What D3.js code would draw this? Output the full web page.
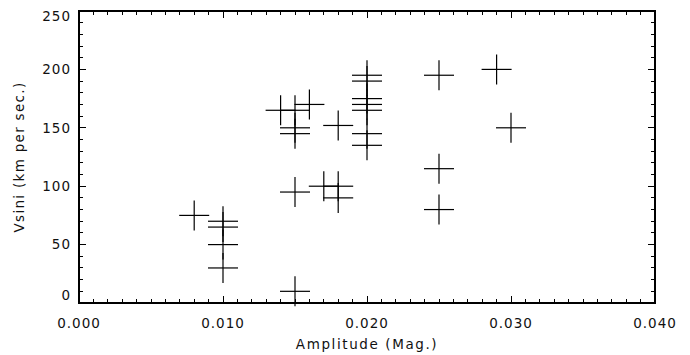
<!DOCTYPE html>
<html>
<head>
    <title>Vsini vs Amplitude</title>
    <script src="https://d3js.org/d3.v7.min.js"></script>
    <style>
        body { margin: 0; background: #fff; }
        svg { display: block; }
        text { font-family: "DejaVu Sans", sans-serif; fill: #111; }
    </style>
</head>
<body>
<svg id="chart"></svg>
<script>

const width = 690, height = 355;
const margin = { top: 11, right: 35, bottom: 52, left: 79 };

// data
const amplitude = [0.008, 0.010, 0.010, 0.010, 0.010,
    0.014, 0.015, 0.015, 0.015, 0.015, 0.015, 0.016,
    0.017, 0.018, 0.018, 0.018,
    0.020, 0.020, 0.020, 0.020, 0.020, 0.020, 0.020,
    0.025, 0.025, 0.025, 0.029, 0.030];
const vsini = [75, 70, 65, 50, 30,
    165, 165, 150, 145, 95, 10, 170,
    100, 100, 90, 152,
    195, 190, 175, 170, 165, 145, 135,
    195, 115, 80, 200, 150];

const xTicks = [0, 0.01, 0.02, 0.03, 0.04];
const xTickLabels = ["0.000", "0.010", "0.020", "0.030", "0.040"];
const yTicks = [0, 50, 100, 150, 200, 250];
const yTickLabels = ["0", "50", "100", "150", "200", "250"];

const xTitle = "Amplitude (Mag.)";
const yTitle = "Vsini (km per sec.)";

const x = d3.scaleLinear().domain([0, 0.04]).range([margin.left, width - margin.right]);
const y = d3.scaleLinear().domain([0, 250]).range([height - margin.bottom, margin.top]);

const svg = d3.select("#chart").attr("width", width).attr("height", height);

const x0 = margin.left, x1 = width - margin.right;
const y0 = height - margin.bottom, y1 = margin.top;

// minor ticks: every 0.001 / every 10
const xMinor = d3.range(0, 41).map(i => i / 1000);
const yMinor = d3.range(0, 26).map(i => i * 10);

const ticks = svg.append("g")
    .attr("stroke", "#000")
    .attr("stroke-width", 1)
    .attr("shape-rendering", "crispEdges");

xMinor.forEach((v, i) => {
    const len = i % 10 === 0 ? 7 : 4;
    ticks.append("line").attr("x1", x(v)).attr("x2", x(v)).attr("y1", y0).attr("y2", y0 - len);
    ticks.append("line").attr("x1", x(v)).attr("x2", x(v)).attr("y1", y1).attr("y2", y1 + len);
});
yMinor.forEach((v, i) => {
    const len = i % 5 === 0 ? 7 : 4;
    ticks.append("line").attr("x1", x0).attr("x2", x0 + len).attr("y1", y(v)).attr("y2", y(v));
    ticks.append("line").attr("x1", x1).attr("x2", x1 - len).attr("y1", y(v)).attr("y2", y(v));
});

// frame
svg.append("rect")
    .attr("x", x0).attr("y", y1)
    .attr("width", x1 - x0).attr("height", y0 - y1)
    .attr("fill", "none")
    .attr("stroke", "#000")
    .attr("stroke-width", 1.3)
    .attr("shape-rendering", "crispEdges");

// tick labels
svg.append("g").selectAll("text")
    .data(xTicks)
    .join("text")
    .attr("x", d => x(d))
    .attr("y", 328)
    .attr("text-anchor", "middle")
    .attr("font-size", 13.5)
    .attr("letter-spacing", 1)
    .text((d, i) => xTickLabels[i]);

// end labels are kept inside the frame, like the original
svg.append("g").selectAll("text")
    .data(yTicks)
    .join("text")
    .attr("x", x0 - 8)
    .attr("y", d => Math.max(y1 + 5, Math.min(y0 - 8, y(d))))
    .attr("dy", "0.36em")
    .attr("text-anchor", "end")
    .attr("font-size", 13.5)
    .attr("letter-spacing", 1)
    .text((d, i) => yTickLabels[i]);

// axis titles
svg.append("text")
    .attr("x", (x0 + x1) / 2)
    .attr("y", 349)
    .attr("text-anchor", "middle")
    .attr("font-size", 13.5)
    .attr("letter-spacing", 1.6)
    .text(xTitle);

svg.append("text")
    .attr("transform", `translate(24,${(y0 + y1) / 2}) rotate(-90)`)
    .attr("text-anchor", "middle")
    .attr("font-size", 13.5)
    .attr("letter-spacing", 1.3)
    .text(yTitle);

// plus symbols
const arm = 15;
const pts = svg.append("g")
    .attr("stroke", "#000")
    .attr("stroke-width", 1.2);

amplitude.forEach((a, i) => {
    const cx = x(a), cy = y(vsini[i]);
    pts.append("line").attr("x1", cx - arm).attr("x2", cx + arm).attr("y1", cy).attr("y2", cy);
    pts.append("line").attr("x1", cx).attr("x2", cx).attr("y1", cy - arm).attr("y2", cy + arm);
});
</script>
</body>
</html>
